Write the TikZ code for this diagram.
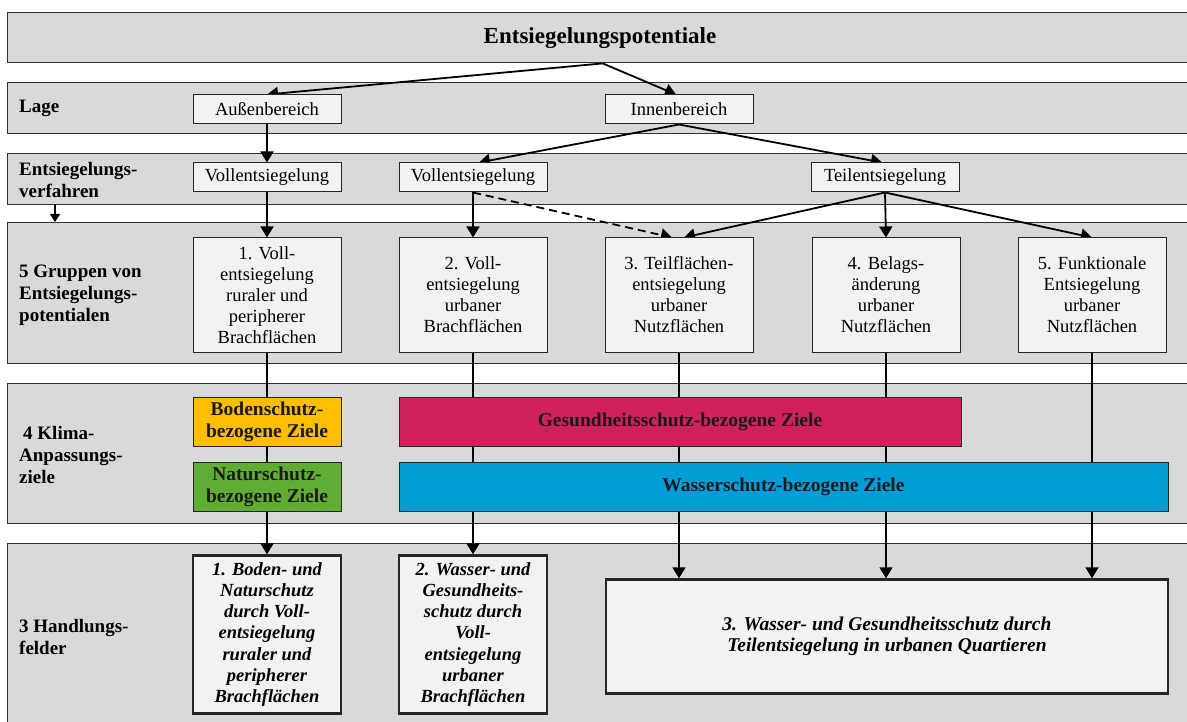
\documentclass[tikz,border=0pt]{standalone}
\usepackage{fontspec}
\setmainfont{Liberation Serif}
\usetikzlibrary{arrows.meta,calc}
\definecolor{bandgray}{HTML}{D9D9D9}
\definecolor{bandline}{HTML}{333333}
\definecolor{boxfill}{HTML}{F2F2F2}
\definecolor{boxline}{HTML}{262626}
\definecolor{bodenc}{HTML}{FDBE00}
\definecolor{naturc}{HTML}{5FAD33}
\definecolor{gesundc}{HTML}{D0215E}
\definecolor{wasserc}{HTML}{009DD7}
\definecolor{txtdark}{HTML}{1A1A1A}
\pgfdeclarelayer{bg}
\pgfdeclarelayer{conn}
\pgfsetlayers{bg,conn,main}
\begin{document}
\begin{tikzpicture}[x=1pt,y=-1pt,
  font=\fontsize{18.5}{21}\selectfont,
  band/.style={draw=bandline, fill=bandgray, line width=1.4pt, anchor=north west, inner sep=0pt, minimum width=1190pt},
  box/.style={draw=boxline, fill=boxfill, line width=1pt, align=center, inner sep=0pt, minimum width=148pt},
  smallbox/.style={box, minimum height=29pt},
  groupbox/.style={box, minimum height=114pt},
  goalbox/.style={draw=boxline, line width=1pt, align=center, inner sep=0pt, minimum height=49pt, text=txtdark, font=\bfseries\fontsize{19.5}{22}\selectfont},
  fieldbox/.style={draw=boxline, fill=boxfill, line width=2.4pt, align=center, inner sep=0pt, font=\bfseries\itshape\fontsize{18.5}{21.3}\selectfont},
  lbl/.style={anchor=west, align=left, inner sep=0pt, font=\bfseries\fontsize{19}{22}\selectfont},
  arr/.style={line width=1.8pt, -{Triangle[length=11pt,width=13pt]}},
  ln/.style={line width=1.8pt}
]
\useasboundingbox (0,0) rectangle (1187,722);

% bands
\begin{pgfonlayer}{bg}
\node[band, minimum height=50pt] (b1) at (7,12) {};
\node[band, minimum height=51pt] (b2) at (7,82) {};
\node[band, minimum height=51pt] (b3) at (7,153) {};
\node[band, minimum height=141pt] (b4) at (7,222) {};
\node[band, minimum height=140pt] (b5) at (7,383) {};
\node[band, minimum height=190pt] (b6) at (7,543) {};
\end{pgfonlayer}

% title
\node[font=\bfseries\fontsize{23}{27}\selectfont] (title) at (600,38) {Entsiegelungspotentiale};

% left labels
\node[lbl] (l1) at (19,108) {Lage};
\node[lbl] (l2) at (19,180) {Entsiegelungs-\\verfahren};
\node[lbl] (l3) at (19,295) {5 Gruppen von\\Entsiegelungs-\\potentialen};
\node[lbl] (l4) at (19,455) {\hspace{4pt}4 Klima-\\Anpassungs-\\ziele};
\node[lbl] (l5) at (19,637) {3 Handlungs-\\felder};

% Lage
\node[smallbox] (aussen) at (267,109.5) {Außenbereich};
\node[smallbox] (innen) at (679,109.5) {Innenbereich};

% Verfahren
\node[smallbox] (vollL) at (267,177.5) {Vollentsiegelung};
\node[smallbox] (vollM) at (473,177.5) {Vollentsiegelung};
\node[smallbox] (teil) at (885,177.5) {Teilentsiegelung};

% Gruppen
\node[groupbox] (g1) at (267,295) {1. Voll-\\entsiegelung\\ruraler und\\peripherer\\Brachflächen};
\node[groupbox] (g2) at (473,295) {2. Voll-\\entsiegelung\\urbaner\\Brachflächen};
\node[groupbox] (g3) at (679,295) {3. Teilflächen-\\entsiegelung\\urbaner\\Nutzflächen};
\node[groupbox] (g4) at (886,295) {4. Belags-\\änderung\\urbaner\\Nutzflächen};
\node[groupbox] (g5) at (1092,295) {5. Funktionale\\Entsiegelung\\urbaner\\Nutzflächen};

% Ziele
\node[goalbox, fill=bodenc, minimum width=148pt] (boden) at (267,421.5) {Bodenschutz-\\bezogene Ziele};
\node[goalbox, fill=naturc, minimum width=148pt] (natur) at (267,486.5) {Naturschutz-\\bezogene Ziele};
\node[goalbox, fill=gesundc, minimum width=562pt] (gesund) at (680,421.5) {Gesundheitsschutz-bezogene Ziele};
\node[goalbox, fill=wasserc, minimum width=769pt] (wasser) at (783.5,486.5) {Wasserschutz-bezogene Ziele};

% Handlungsfelder
\node[fieldbox, minimum width=148pt, minimum height=158pt] (h1) at (267,634.5) {1. Boden- und\\Naturschutz\\durch Voll-\\entsiegelung\\ruraler und\\peripherer\\Brachflächen};
\node[fieldbox, minimum width=148pt, minimum height=158pt] (h2) at (473,634.5) {2. Wasser- und\\Gesundheits-\\schutz durch\\Voll-\\entsiegelung\\urbaner\\Brachflächen};
\node[fieldbox, minimum width=562pt, minimum height=114pt, font=\bfseries\itshape\fontsize{19.5}{21.5}\selectfont] (h3) at (887,636.5) {3. Wasser- und Gesundheitsschutz durch\\Teilentsiegelung in urbanen Quartieren};

\coordinate (sa1) at (55,204);
\coordinate (sa2) at (55,222);

% connectors
\begin{pgfonlayer}{conn}
\draw[arr] (b1.south) -- (aussen.north);
\draw[arr] (b1.south) -- ([xshift=-3pt]innen.north);
\draw[arr] (aussen.south) -- (vollL.north);
\draw[arr] (innen.south) -- ([xshift=6pt]vollM.north);
\draw[arr] (innen.south) -- ([xshift=-3pt]teil.north);
\draw[arr] (vollL.south) -- (g1.north);
\draw[arr] (vollM.south) -- (g2.north);
\draw[arr, dash pattern=on 8pt off 5pt] (vollM.south) -- ([xshift=-7pt]g3.north);
\draw[arr] (teil.south) -- ([xshift=5pt]g3.north);
\draw[arr] (teil.south) -- (g4.north);
\draw[arr] (teil.south) -- (g5.north);
\draw[line width=1.4pt, -{Triangle[length=8pt,width=10pt]}] (sa1) -- (sa2);
\draw[arr] (g1.south) -- (h1.north);
\draw[arr] (g2.south) -- (h2.north);
\draw[arr] (g3.south) -- (g3.south |- h3.north);
\draw[arr] (g4.south) -- (g4.south |- h3.north);
\draw[arr] (g5.south) -- (g5.south |- h3.north);
\end{pgfonlayer}
\end{tikzpicture}
\end{document}
